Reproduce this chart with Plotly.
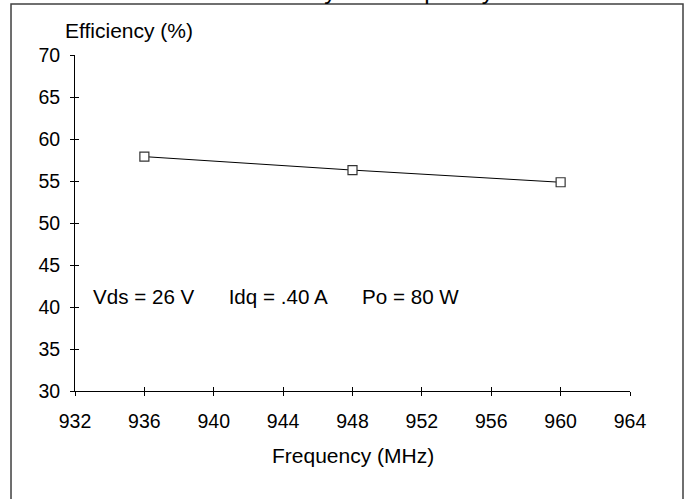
import plotly.graph_objects as go

# Data
freq_mhz = [936, 948, 960]
efficiency_pct = [57.9, 56.3, 54.85]
x_ticks = [932, 936, 940, 944, 948, 952, 956, 960, 964]
y_ticks = [30, 35, 40, 45, 50, 55, 60, 65, 70]
title_text = "Efficiency vs. Frequency"
y_title = "Efficiency (%)"
x_title = "Frequency (MHz)"
cond_text = "Vds = 26 V&nbsp;&nbsp;&nbsp;&nbsp;&nbsp;&nbsp;Idq = .40 A&nbsp;&nbsp;&nbsp;&nbsp;&nbsp;&nbsp;Po = 80 W"

FONT = "Liberation Sans, Arial, sans-serif"

fig = go.Figure()
fig.add_trace(go.Scatter(
    x=freq_mhz, y=efficiency_pct, mode="lines+markers",
    line=dict(color="black", width=1),
    marker=dict(symbol="square", size=9, color="white",
                line=dict(color="#333333", width=1.2)),
    showlegend=False, hoverinfo="skip",
))

axis_common = dict(showgrid=False, zeroline=False, showline=True,
                   linecolor="black", linewidth=1,
                   ticks="outside", ticklen=4, tickcolor="black", tickwidth=1,
                   tickfont=dict(family=FONT, size=19.5, color="black"))

fig.update_layout(
    width=684, height=499,
    margin=dict(l=75, r=54, t=55, b=108),
    paper_bgcolor="white", plot_bgcolor="white",
    font=dict(family=FONT, size=20, color="black"),
    xaxis=dict(range=[x_ticks[0], x_ticks[-1]], tickvals=x_ticks,
               ticklabelstandoff=9, **axis_common),
    yaxis=dict(range=[y_ticks[0], y_ticks[-1]], tickvals=y_ticks,
               ticklabelstandoff=6, **axis_common),
    xaxis2=dict(overlaying="x", anchor="y", side="bottom",
                range=[x_ticks[0], x_ticks[-1]], tickvals=x_ticks,
                showgrid=False, zeroline=False, showline=False,
                ticks="inside", ticklen=4, tickcolor="black",
                showticklabels=False),
    yaxis2=dict(overlaying="y", anchor="x", side="left",
                range=[y_ticks[0], y_ticks[-1]], tickvals=y_ticks,
                showgrid=False, zeroline=False, showline=False,
                ticks="inside", ticklen=4, tickcolor="black",
                showticklabels=False),
)

# Invisible trace to activate overlay axes
fig.add_trace(go.Scatter(x=[freq_mhz[0]], y=[efficiency_pct[0]], xaxis="x2", yaxis="y2",
                         mode="markers", marker=dict(opacity=0), showlegend=False,
                         hoverinfo="skip"))

fig.add_annotation(text=title_text, xref="paper", yref="paper", x=0.521, y=1.193,
                   xanchor="center", yanchor="middle", showarrow=False,
                   font=dict(family=FONT, size=24, color="black"))
fig.add_annotation(text=y_title, xref="paper", yref="paper", x=-0.0216, y=1.0744,
                   xanchor="left", yanchor="middle", showarrow=False,
                   font=dict(family=FONT, size=21, color="black"))
fig.add_annotation(text=x_title, xref="paper", yref="paper", x=0.5, y=-0.193,
                   xanchor="center", yanchor="middle", showarrow=False,
                   font=dict(family=FONT, size=21, color="black"))
fig.add_annotation(text=cond_text, xref="x", yref="y", x=932.95, y=41.2,
                   xanchor="left", yanchor="middle", showarrow=False,
                   font=dict(family=FONT, size=20.6, color="black"))

fig.add_shape(type="rect", xref="paper", yref="paper",
              x0=-0.1153, x1=1.0955, y0=-0.4, y1=1.1518,
              line=dict(color="#404040", width=1.5), layer="above")

fig.write_html("out.html", config={"displayModeBar": False},
               post_script="document.body.style.margin='0';")
